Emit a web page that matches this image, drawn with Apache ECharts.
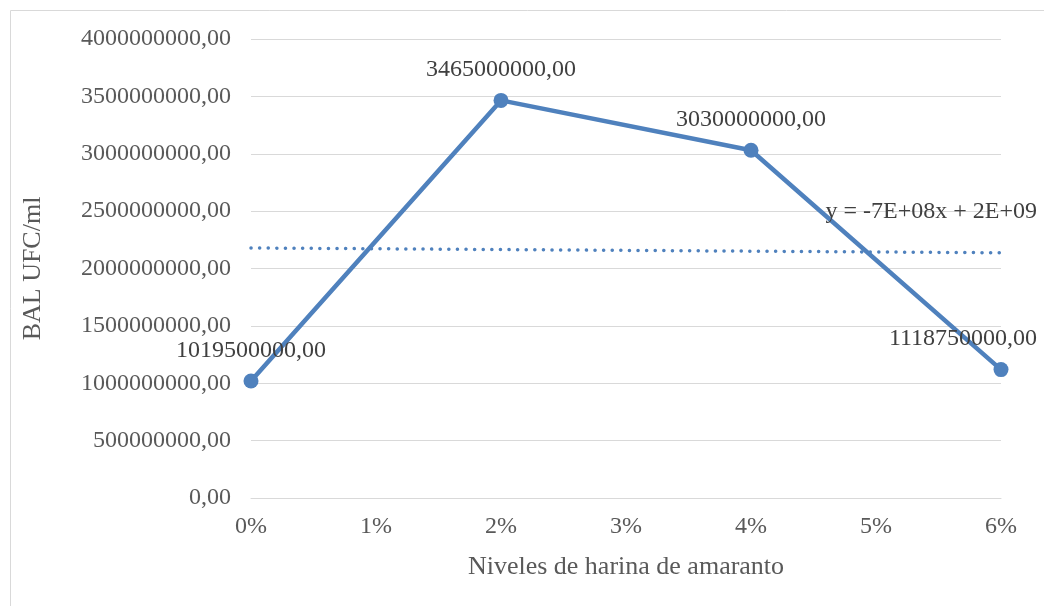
<!DOCTYPE html>
<html>
<head>
<meta charset="utf-8">
<script src="https://cdn.jsdelivr.net/npm/echarts@6/dist/echarts.min.js"></script>
<style>
  html, body { margin: 0; padding: 0; background: #fff; }
  #myChart { width: 1044px; height: 606px; }
</style>
</head>
<body>
<div id="myChart"></div>
<script>
// niveles de harina (categorías del eje x)
const niveles = ['0%', '1%', '2%', '3%', '4%', '5%', '6%']
// BAL UFC/ml, solo hay medición en 0, 2, 4 y 6 %
const bal = [1019500000, null, 3465000000, null, 3030000000, null, 1118750000]
// línea de tendencia (lineal), extremos
const tendencia = [2179000000, null, null, null, null, null, 2137000000]
const ecuacion = 'y = -7E+08x + 2E+09'

const azul = '#4f81bd'
const fuente = 'Liberation Serif, Times New Roman, serif'

const myChart = echarts.init(document.getElementById('myChart'))

// 1019500000 -> "1019500000,00"
const fmt = v => v.toFixed(2).replace('.', ',')

const option = {
  animation: false,
  textStyle: { fontFamily: fuente },
  grid: { left: 251, right: 43, top: 39, bottom: 108 },
  graphic: [
    {
      type: 'rect',
      shape: { x: 10.5, y: 10.5, width: 1200, height: 800 },
      style: { fill: 'none', stroke: '#d9d9d9', lineWidth: 1 },
      silent: true
    },
    {
      type: 'text',
      right: 7,
      top: 200,
      style: { text: ecuacion, font: '24px ' + fuente, fill: '#404040' },
      z: 10
    }
  ],
  xAxis: {
    type: 'category',
    data: niveles,
    boundaryGap: false,
    name: 'Niveles de harina de amaranto',
    nameLocation: 'middle',
    nameGap: 56,
    nameTextStyle: { fontSize: 26, color: '#595959', fontFamily: fuente },
    axisLine: { show: true, lineStyle: { color: '#d9d9d9', width: 1 } },
    axisTick: { show: false },
    axisLabel: { fontSize: 24, color: '#595959', margin: 17, fontFamily: fuente },
    splitLine: { show: false }
  },
  yAxis: {
    type: 'value',
    min: 0,
    max: 4000000000,
    interval: 500000000,
    name: 'BAL UFC/ml',
    nameLocation: 'middle',
    nameGap: 205,
    nameTextStyle: { fontSize: 26, color: '#595959', fontFamily: fuente },
    axisLine: { show: false },
    axisTick: { show: false },
    axisLabel: { fontSize: 24, color: '#595959', margin: 20, fontFamily: fuente, formatter: fmt },
    splitLine: { lineStyle: { color: '#d9d9d9', width: 1 } }
  },
  series: [
    {
      name: 'Tendencia',
      type: 'line',
      data: tendencia,
      connectNulls: true,
      showSymbol: false,
      symbol: 'none',
      lineStyle: { color: azul, width: 3.5, type: [0.1, 8.5], cap: 'round' },
      z: 2
    },
    {
      name: 'BAL',
      type: 'line',
      data: bal.map((v, i) => v == null ? null : {
        value: v,
        label: i === 6 ? { offset: [-38, 0] } : {}
      }),
      connectNulls: true,
      symbol: 'circle',
      symbolSize: 15,
      itemStyle: { color: azul },
      lineStyle: { color: azul, width: 4.5 },
      label: {
        show: true,
        position: 'top',
        distance: 11,
        fontSize: 24,
        color: '#404040',
        fontFamily: fuente,
        formatter: p => fmt(p.value)
      },
      z: 3
    }
  ]
}

myChart.setOption(option)
</script>
</body>
</html>
